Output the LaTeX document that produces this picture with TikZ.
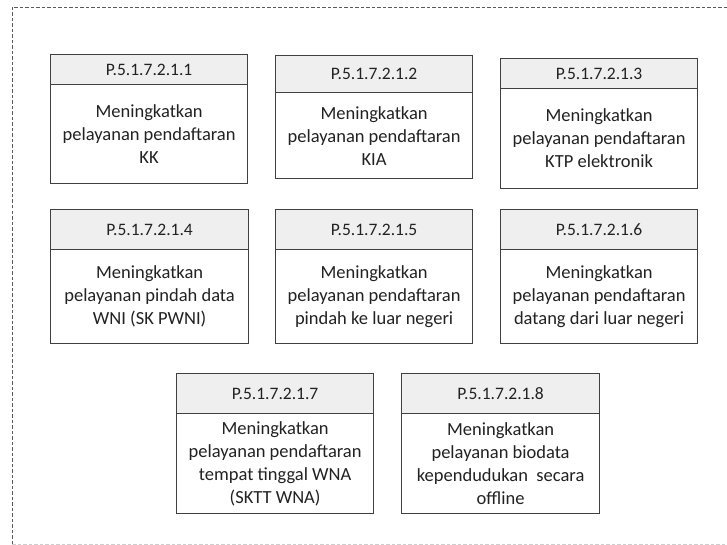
\documentclass[tikz,border=0pt]{standalone}
\usepackage{fontspec}
\setmainfont{Carlito}
\definecolor{edge}{HTML}{404040}
\definecolor{hdrfill}{HTML}{EFEFEF}
\definecolor{txt}{HTML}{222222}
\definecolor{frame}{HTML}{5A5A5A}
\tikzset{
  hdr/.style={draw=edge, line width=1.2pt, fill=hdrfill, anchor=north west, inner sep=0pt,
    text=txt, font=\fontsize{17.5}{20}\selectfont, align=center},
  bodybox/.style={draw=edge, line width=1.2pt, fill=white, anchor=north west, inner sep=0pt,
    text=txt, font=\fontsize{18.5}{23}\selectfont, align=center},
  framedash/.style={draw=frame, line width=0.9pt, dash pattern=on 3.5pt off 2pt}
}
\begin{document}
\begin{tikzpicture}[x=1pt,y=-1pt]
\useasboundingbox (0,0) rectangle (727,545);
% dashed outer frame
\coordinate (fbl) at (12,544);
\coordinate (ftl) at (12,7);
\coordinate (ftr) at (727,7);
\coordinate (fbr) at (727,544);
\draw[framedash] (fbl) -- (ftl) -- (ftr);
\draw[framedash, draw=frame!30] (fbl) -- (fbr);
% row 1
\node[bodybox, minimum width=197pt, minimum height=99pt] (b1) at (50,84) {Meningkatkan\\pelayanan pendaftaran\\KK};
\node[hdr, minimum width=197pt, minimum height=30pt] (h1) at (50,54) {P.5.1.7.2.1.1};
\node[bodybox, minimum width=197pt, minimum height=86pt] (b2) at (275,92) {Meningkatkan\\pelayanan pendaftaran\\KIA};
\node[hdr, minimum width=197pt, minimum height=37pt] (h2) at (275,55) {P.5.1.7.2.1.2};
\node[bodybox, minimum width=197pt, minimum height=100pt] (b3) at (500,88) {Meningkatkan\\pelayanan pendaftaran\\KTP elektronik};
\node[hdr, minimum width=197pt, minimum height=30pt] (h3) at (500,58) {P.5.1.7.2.1.3};
% row 2
\node[bodybox, minimum width=198pt, minimum height=94pt] (b4) at (50,249) {Meningkatkan\\pelayanan pindah data\\WNI (SK PWNI)};
\node[hdr, minimum width=198pt, minimum height=40pt] (h4) at (50,209) {P.5.1.7.2.1.4};
\node[bodybox, minimum width=197pt, minimum height=94pt] (b5) at (275,249) {Meningkatkan\\pelayanan pendaftaran\\pindah ke luar negeri};
\node[hdr, minimum width=197pt, minimum height=40pt] (h5) at (275,209) {P.5.1.7.2.1.5};
\node[bodybox, minimum width=197pt, minimum height=94pt] (b6) at (500,249) {Meningkatkan\\pelayanan pendaftaran\\datang dari luar negeri};
\node[hdr, minimum width=197pt, minimum height=40pt] (h6) at (500,209) {P.5.1.7.2.1.6};
% row 3
\node[bodybox, minimum width=197pt, minimum height=100pt] (b7) at (176,413) {Meningkatkan\\pelayanan pendaftaran\\tempat tinggal WNA\\(SKTT WNA)};
\node[hdr, minimum width=197pt, minimum height=40pt] (h7) at (176,373) {P.5.1.7.2.1.7};
\node[bodybox, minimum width=198pt, minimum height=100pt] (b8) at (401,413) {Meningkatkan\\pelayanan biodata\\kependudukan\ \ secara\\offline};
\node[hdr, minimum width=198pt, minimum height=40pt] (h8) at (401,373) {P.5.1.7.2.1.8};
\end{tikzpicture}
\end{document}
